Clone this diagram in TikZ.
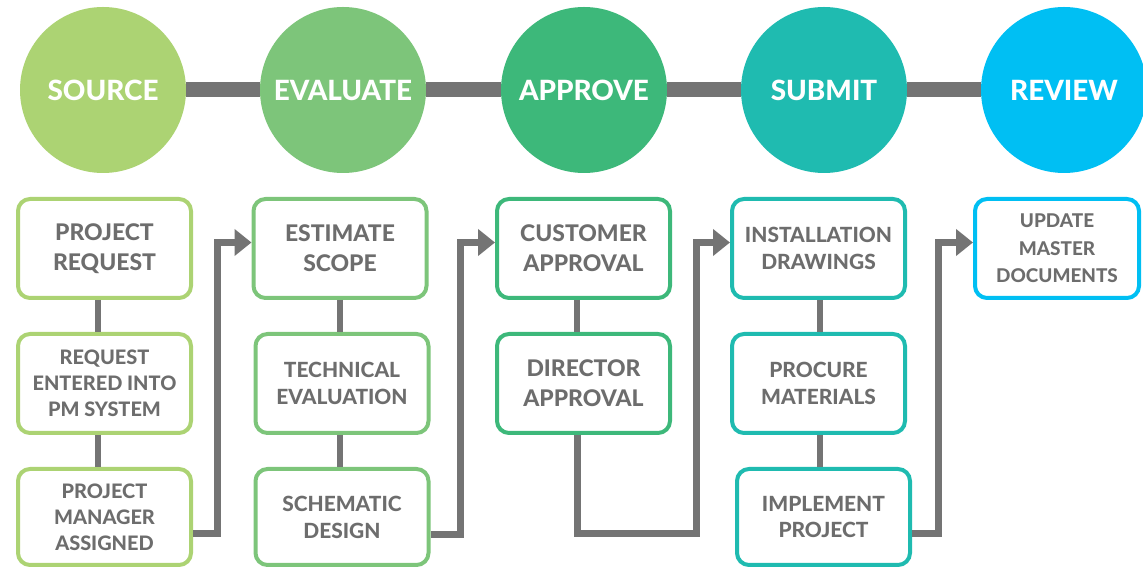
\documentclass[tikz,border=0pt]{standalone}
\usepackage{fontspec}
\setmainfont{Lato}[BoldFont={Lato Heavy}]
\usetikzlibrary{arrows.meta}
\definecolor{srcgreen}{HTML}{ACD373}
\definecolor{evalgreen}{HTML}{7DC57A}
\definecolor{apprgreen}{HTML}{3DB87A}
\definecolor{subteal}{HTML}{1FBBB0}
\definecolor{revblue}{HTML}{00BFF3}
\definecolor{linegray}{HTML}{747474}
\definecolor{textgray}{HTML}{6D6D6D}

\begin{document}
\begin{tikzpicture}[>={Triangle[length=17bp,width=26bp]}, line join=miter]
  \tikzstyle{stage}=[circle,minimum size=166bp,inner sep=0pt,text=white,font=\fontsize{28}{30}\selectfont\bfseries]
  \tikzstyle{task}=[draw,line width=4bp,rounded corners=12bp,minimum width=173bp,minimum height=99bp,inner sep=0pt,align=center,text=textgray,font=\fontsize{21}{27}\selectfont\bfseries]
  \tikzstyle{bigtask}=[task,font=\fontsize{23}{30}\selectfont\bfseries]
  \tikzstyle{link}=[linegray,line width=6.5bp]
  \tikzstyle{bar}=[linegray,line width=15bp]
  \tikzstyle{flow}=[linegray,line width=7bp,->]
  \useasboundingbox (0bp,0bp) rectangle (1143bp,568bp);
  %%
  \node (s1) at (103bp,478bp) [stage,fill=srcgreen] {SOURCE};
  \node (s2) at (343bp,478bp) [stage,fill=evalgreen] {EVALUATE};
  \node (s3) at (584bp,478bp) [stage,fill=apprgreen] {APPROVE};
  \node (s4) at (824bp,478bp) [stage,fill=subteal] {SUBMIT};
  \node (s5) at (1064bp,478bp) [stage,fill=revblue] {REVIEW};
  \foreach \a/\b in {s1/s2,s2/s3,s3/s4,s4/s5}
    \draw [bar] (\a.east) -- (\b.west);
  %%
  \node (b1_1) at (104.5bp,319.5bp) [bigtask,draw=srcgreen] {PROJECT\\REQUEST};
  \node (b1_2) at (104.5bp,184.5bp) [task,draw=srcgreen,font=\fontsize{20}{26}\selectfont\bfseries] {REQUEST\\ENTERED INTO\\PM SYSTEM};
  \node (b1_3) at (104.5bp,51bp) [task,draw=srcgreen,minimum height=96bp,font=\fontsize{20}{26}\selectfont\bfseries] {PROJECT\\MANAGER\\ASSIGNED};
  \node (b2_1) at (340bp,319.5bp) [bigtask,draw=evalgreen] {ESTIMATE\\SCOPE};
  \node (b2_2) at (342bp,184.5bp) [task,draw=evalgreen] {TECHNICAL\\EVALUATION};
  \node (b2_3) at (342bp,51bp) [task,draw=evalgreen,minimum height=96bp] {SCHEMATIC\\DESIGN};
  \node (b3_1) at (583.5bp,319.5bp) [bigtask,draw=apprgreen] {CUSTOMER\\APPROVAL};
  \node (b3_2) at (583.5bp,184.5bp) [bigtask,draw=apprgreen] {DIRECTOR\\APPROVAL};
  \node (b4_1) at (818.5bp,319.5bp) [task,draw=subteal] {INSTALLATION\\DRAWINGS};
  \node (b4_2) at (818.5bp,184.5bp) [task,draw=subteal] {PROCURE\\MATERIALS};
  \node (b4_3) at (823.5bp,51bp) [task,draw=subteal,minimum height=96bp] {IMPLEMENT\\PROJECT};
  \node (b5_1) at (1057bp,319.5bp) [task,draw=revblue,minimum width=164bp,font=\fontsize{19}{27.5}\selectfont\bfseries] {UPDATE\\MASTER\\DOCUMENTS};
  %%
  \foreach \u/\v/\dx in {b1_1/b1_2/-6.5,b1_2/b1_3/-6.5,b2_1/b2_2/0,b2_2/b2_3/-2,b3_1/b3_2/-6.5,b4_1/b4_2/1.5,b4_2/b4_3/1.5}
    \draw [link] ([xshift=\dx bp]\u.south) -- ([xshift=\dx bp]\u.south |- \v.north);
  %%
  \draw [flow] ([yshift=-17bp]b1_3.east) -- ++(24bp,0) |- ([yshift=6bp]b2_1.west);
  \draw [flow] ([yshift=-18bp]b2_3.east) -- ++(30bp,0) |- ([yshift=6bp]b3_1.west);
  \draw [flow] ([xshift=-6.5bp]b3_2.south) -- ++(0,-99bp) -- ++(119bp,0) |- ([yshift=6bp]b4_1.west);
  \draw [flow] ([yshift=-17bp]b4_3.east) -- ++(26bp,0) |- ([yshift=6bp]b5_1.west);
\end{tikzpicture}
\end{document}
